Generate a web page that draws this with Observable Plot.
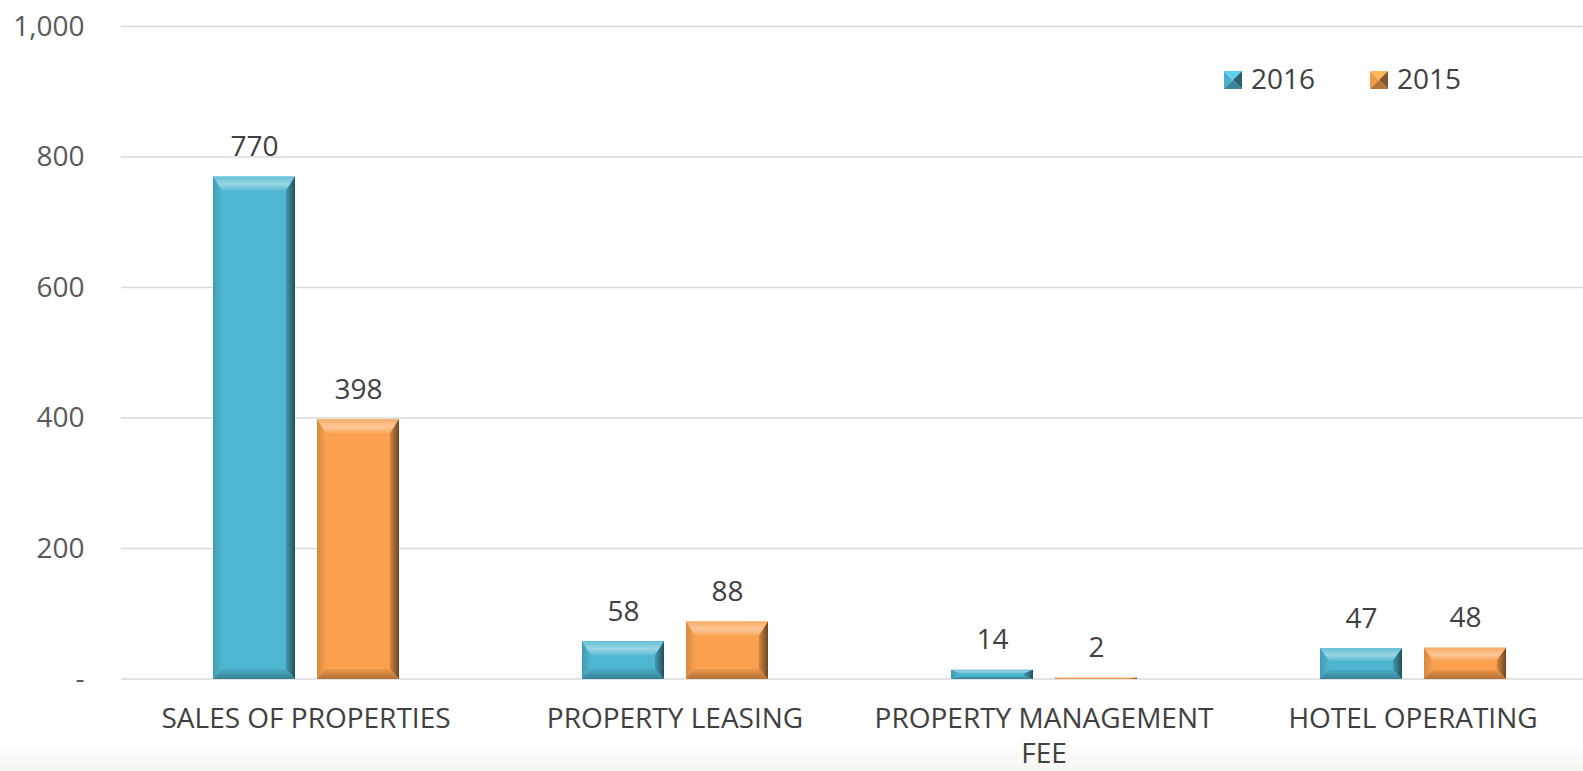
<!DOCTYPE html>
<html>
<head>
<meta charset="utf-8">
<script src="https://cdn.jsdelivr.net/npm/d3@7"></script>
<script src="https://cdn.jsdelivr.net/npm/@observablehq/plot@0.6"></script>
<style>
  html, body { margin: 0; padding: 0; }
  body { width: 1583px; height: 771px; overflow: hidden;
         background: linear-gradient(to bottom, #ffffff 0px, #ffffff 742px, #f6f5f1 771px); }
  #wrap { position: relative; width: 1583px; height: 771px; }
  .leg { position: absolute; font-family: "Open Sans", sans-serif; font-size: 28px; line-height: 28px; color: #404040; white-space: nowrap; }
  .sq { position: absolute; width: 18px; height: 18px; }
</style>
</head>
<body>
<div id="wrap"></div>
<script>
// ---- data ----
const categories = ["SALES OF PROPERTIES", "PROPERTY LEASING", "PROPERTY MANAGEMENT FEE", "HOTEL OPERATING"];
const categoryLabels = ["SALES OF PROPERTIES", "PROPERTY LEASING", "PROPERTY MANAGEMENT\nFEE", "HOTEL OPERATING"];
const years = ["2016", "2015"];
const values2016 = [770, 58, 14, 47];
const values2015 = [398, 88, 2, 48];
const yTicks = [0, 200, 400, 600, 800, 1000];
const colors = ["#4fb6d1", "#faa04f"];

const data = [];
categories.forEach((c, i) => {
  data.push({cat: c, year: years[0], value: values2016[i]});
  data.push({cat: c, year: years[1], value: values2015[i]});
});
const labelOf = new Map(categories.map((c, i) => [c, categoryLabels[i]]));

const NS = "http://www.w3.org/2000/svg";
function el(parent, name, attrs) {
  const e = document.createElementNS(NS, name);
  for (const k in attrs) e.setAttribute(k, attrs[k]);
  parent.appendChild(e);
  return e;
}
function poly(parent, pts, fill) {
  return el(parent, "polygon", {points: pts.map(q => q.join(",")).join(" "), fill});
}
const mix = (a, b, t) => d3.color(d3.interpolateRgb(a, b)(t)).formatHex();
function gradient(defs, id, vertical, stops) {
  const g = el(defs, "linearGradient", {id, x1: 0, y1: 0, x2: vertical ? 0 : 1, y2: vertical ? 1 : 0});
  stops.forEach(([o, c]) => el(g, "stop", {offset: o, "stop-color": c}));
}
// one set of bevel gradients per series colour, defined once in the chart's <defs>
function addGradients(defs, base) {
  const key = base.replace("#", "");
  const c = d3.color(base);
  gradient(defs, "bt" + key, true, [[0, mix(base, "#fff", 0.12)], [0.55, mix(base, "#fff", 0.42)], [1, mix(base, "#fff", 0.08)]]);
  gradient(defs, "br" + key, false, [[0, c.darker(0.5).formatHex()], [1, c.darker(2.3).formatHex()]]);
  gradient(defs, "bb" + key, true, [[0, c.darker(0.15).formatHex()], [1, c.darker(1.0).formatHex()]]);
  gradient(defs, "bl" + key, false, [[0, c.darker(0.45).formatHex()], [1, base]]);
}
function bevel(parent, x, y, w, h, key) {
  const bt = Math.max(0, Math.min(14, h * 0.4));
  const bb = Math.max(0, Math.min(10, h * 0.3));
  const bs = Math.min(9, w / 4);
  poly(parent, [[x, y], [x + bs, y + bt], [x + bs, y + h - bb], [x, y + h]], `url(#bl${key})`);
  poly(parent, [[x, y], [x + w, y], [x + w - bs, y + bt], [x + bs, y + bt]], `url(#bt${key})`);
  poly(parent, [[x + w, y], [x + w, y + h], [x + w - bs, y + h - bb], [x + w - bs, y + bt]], `url(#br${key})`);
  poly(parent, [[x, y + h], [x + w, y + h], [x + w - bs, y + h - bb], [x + bs, y + h - bb]], `url(#bb${key})`);
}

const chart = Plot.plot({
  width: 1583,
  height: 771,
  marginLeft: 121,
  marginRight: -15,
  marginTop: 26.5,
  marginBottom: 92,
  style: {fontFamily: "Open Sans, sans-serif", fontSize: "28px", background: "transparent", color: "#404040"},
  fx: {domain: categories, paddingInner: 0.492, paddingOuter: 0.246, label: null},
  x: {domain: years, paddingInner: 0.215, paddingOuter: 0, axis: null},
  y: {domain: [0, 1000], axis: null},
  color: {domain: years, range: colors},
  marks: [
    // full-width horizontal gridlines, drawn once across the whole fx range from the y scale
    Plot.frame({facet: "super", stroke: "none", fill: "none",
      render(index, scales, values, dimensions) {
        const g = document.createElementNS(NS, "g");
        const r = scales.fx && scales.fx.range ? scales.fx.range() : [dimensions.marginLeft, dimensions.width - dimensions.marginRight];
        yTicks.forEach(t => {
          const yy = scales.y(t);
          el(g, "line", {x1: r[0], x2: r[1], y1: yy, y2: yy, stroke: "#d9d9d9", "stroke-width": 1.4});
        });
        return g;
      }
    }),
    Plot.axisY({ticks: yTicks, tickSize: 0, tickPadding: 128, label: null, fill: "#595959",
      tickFormat: d => d === 0 ? "-" : d3.format(",")(d)}),
    Plot.axisFx({anchor: "bottom", tickSize: 0, tickPadding: 24, label: null, fill: "#404040",
      lineHeight: 1.25, tickFormat: d => labelOf.get(d)}),
    Plot.barY(data, {
      fx: "cat", x: "year", y: "value", fill: "year",
      style: {filter: "drop-shadow(1px 2px 2.5px rgba(0,0,0,0.35))"},
      render(index, scales, values, dimensions, context, next) {
        const g = next(index, scales, values, dimensions, context);
        g.querySelectorAll("rect").forEach(r => {
          const x = +r.getAttribute("x"), y = +r.getAttribute("y");
          const w = +r.getAttribute("width"), h = +r.getAttribute("height");
          const key = r.getAttribute("fill").replace("#", "");
          const grp = document.createElementNS(NS, "g");
          r.parentNode.insertBefore(grp, r.nextSibling);
          bevel(grp, x, y, w, h, key);
        });
        return g;
      }
    }),
    Plot.text(data, {fx: "cat", x: "year", y: "value", text: d => String(d.value),
      lineAnchor: "bottom", dy: -21, fill: "#404040"})
  ]
});
const defs = document.createElementNS(NS, "defs");
chart.insertBefore(defs, chart.firstChild);
colors.forEach(c => addGradients(defs, c));

const wrap = document.getElementById("wrap");
wrap.appendChild(chart);

// legend (inside plot area, top right)
const legendItems = [{label: years[0], color: colors[0], sx: 1224, tx: 1251}, {label: years[1], color: colors[1], sx: 1370, tx: 1397}];
legendItems.forEach(it => {
  const s = document.createElementNS(NS, "svg");
  s.setAttribute("class", "sq");
  s.setAttribute("width", 18); s.setAttribute("height", 18);
  s.style.left = it.sx + "px"; s.style.top = "71px";
  const c = d3.color(it.color);
  poly(s, [[0, 0], [9, 9], [0, 18]], c.darker(0.1).formatHex());
  poly(s, [[0, 0], [18, 0], [9, 9]], c.brighter(0.4).formatHex());
  poly(s, [[18, 0], [18, 18], [9, 9]], c.darker(1.8).formatHex());
  poly(s, [[0, 18], [18, 18], [9, 9]], c.darker(0.9).formatHex());
  wrap.appendChild(s);
  const t = document.createElement("div");
  t.className = "leg";
  t.textContent = it.label;
  t.style.left = it.tx + "px"; t.style.top = "64px";
  wrap.appendChild(t);
});
</script>
</body>
</html>
